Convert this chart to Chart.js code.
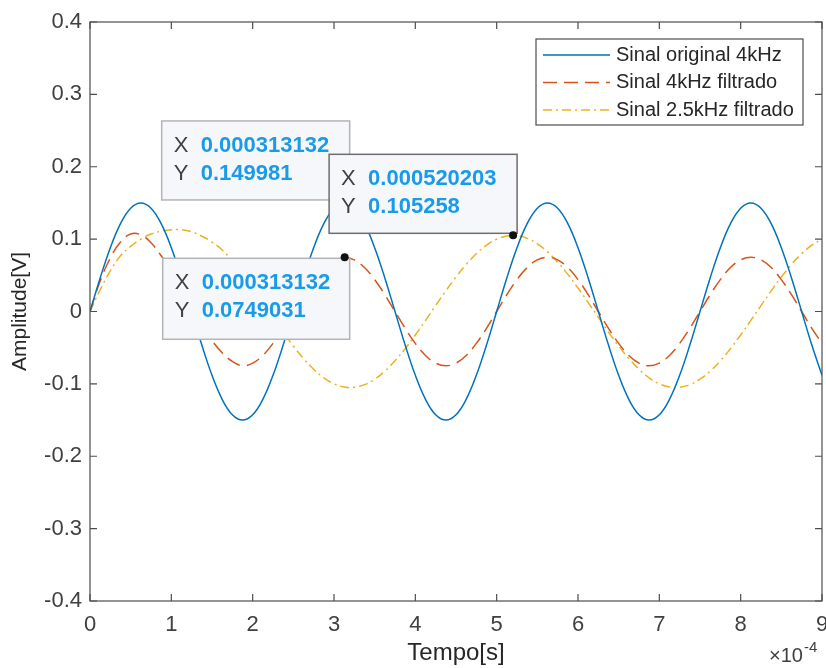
<!DOCTYPE html>
<html>
<head>
<meta charset="utf-8">
<script src="https://cdn.jsdelivr.net/npm/chart.js@4.4.1/dist/chart.umd.min.js"></script>
<style>
  body { margin: 0; background: #fff; }
  canvas { display: block; }
</style>
</head>
<body>
<canvas id="sinalChart" width="826" height="668"></canvas>
<script>
// tempo em unidades de 1e-4 s
const tempo = [
  0, 0.125, 0.25, 0.375, 0.5, 0.625, 0.75, 0.875, 1, 1.125, 1.25, 1.375, 1.5, 1.625, 1.75, 1.875,
  2, 2.125, 2.25, 2.375, 2.5, 2.625, 2.75, 2.875, 3, 3.125, 3.25, 3.375, 3.5, 3.625, 3.75, 3.875,
  4, 4.125, 4.25, 4.375, 4.5, 4.625, 4.75, 4.875, 5, 5.125, 5.25, 5.375, 5.5, 5.625, 5.75, 5.875,
  6, 6.125, 6.25, 6.375, 6.5, 6.625, 6.75, 6.875, 7, 7.125, 7.25, 7.375, 7.5, 7.625, 7.75, 7.875,
  8, 8.125, 8.25, 8.375, 8.5, 8.625, 8.75, 8.875, 9
];

const sinalOriginal = [
  0, 0.0464, 0.0882, 0.1214, 0.1427, 0.15, 0.1427, 0.1214, 0.0882, 0.0464,
  0, -0.0464, -0.0882, -0.1214, -0.1427, -0.15, -0.1427, -0.1214, -0.0882, -0.0464,
  0, 0.0464, 0.0882, 0.1214, 0.1427, 0.15, 0.1427, 0.1214, 0.0882, 0.0464,
  0, -0.0464, -0.0882, -0.1214, -0.1427, -0.15, -0.1427, -0.1214, -0.0882, -0.0464,
  0, 0.0464, 0.0882, 0.1214, 0.1427, 0.15, 0.1427, 0.1214, 0.0882, 0.0464,
  0, -0.0464, -0.0882, -0.1214, -0.1427, -0.15, -0.1427, -0.1214, -0.0882, -0.0464,
  0, 0.0464, 0.0882, 0.1214, 0.1427, 0.15, 0.1427, 0.1214, 0.0882, 0.0464,
  0, -0.0464, -0.0882
];

const sinal4kFiltrado = [
  0, 0.042, 0.074, 0.096, 0.107, 0.106, 0.095, 0.077, 0.056, 0.032,
  0.008, -0.017, -0.040, -0.057, -0.069, -0.075, -0.0713, -0.0607, -0.0441, -0.0232,
  0, 0.0232, 0.0441, 0.0607, 0.0713, 0.075, 0.0713, 0.0607, 0.0441, 0.0232,
  0, -0.0232, -0.0441, -0.0607, -0.0713, -0.075, -0.0713, -0.0607, -0.0441, -0.0232,
  0, 0.0232, 0.0441, 0.0607, 0.0713, 0.075, 0.0713, 0.0607, 0.0441, 0.0232,
  0, -0.0232, -0.0441, -0.0607, -0.0713, -0.075, -0.0713, -0.0607, -0.0441, -0.0232,
  0, 0.0232, 0.0441, 0.0607, 0.0713, 0.075, 0.0713, 0.0607, 0.0441, 0.0232,
  0, -0.0232, -0.0441
];

const sinal25kFiltrado = [
  0, 0.030, 0.056, 0.077, 0.090, 0.100, 0.107, 0.111, 0.113, 0.113,
  0.110, 0.104, 0.096, 0.085, 0.070, 0.052, 0.033, 0.013, -0.0082, -0.0285,
  -0.0477, -0.065, -0.0798, -0.0916, -0.0999, -0.1043, -0.1047, -0.1011, -0.0936, -0.0824,
  -0.0682, -0.0513, -0.0324, -0.0123, 0.0082, 0.0285, 0.0477, 0.065, 0.0798, 0.0916,
  0.0999, 0.1043, 0.1047, 0.1011, 0.0936, 0.0824, 0.0682, 0.0513, 0.0324, 0.0123,
  -0.0082, -0.0285, -0.0477, -0.065, -0.0798, -0.0916, -0.0999, -0.1043, -0.1047, -0.1011,
  -0.0936, -0.0824, -0.0682, -0.0513, -0.0324, -0.0123, 0.0082, 0.0285, 0.0477, 0.065,
  0.0798, 0.0916, 0.0999
];

const nomesSinais = ['Sinal original 4kHz', 'Sinal 4kHz filtrado', 'Sinal 2.5kHz filtrado'];

const xTicks = [0, 1, 2, 3, 4, 5, 6, 7, 8, 9];
const yTicks = [-0.4, -0.3, -0.2, -0.1, 0, 0.1, 0.2, 0.3, 0.4];
const yTickLabels = ['-0.4', '-0.3', '-0.2', '-0.1', '0', '0.1', '0.2', '0.3', '0.4'];

// data tips (x em 1e-4 s)
const tipX = [3.13132, 3.13132, 5.20203];
const tipY = [0.149981, 0.0749031, 0.105258];
const tipXText = ['0.000313132', '0.000313132', '0.000520203'];
const tipYText = ['0.149981', '0.0749031', '0.105258'];

const FONT = '"Liberation Sans", Arial, Helvetica, sans-serif';
const AXIS_COLOR = '#404040';

function toPoints(ys) {
  return ys.map((y, i) => ({ x: tempo[i], y: y }));
}

const matlabPlugin = {
  id: 'matlabPlugin',
  afterDraw(chart) {
    const { ctx, chartArea: a, scales } = chart;
    const xs = scales.x, ys = scales.y;
    ctx.save();

    // caixa do eixo + ticks para dentro
    ctx.strokeStyle = '#4d4d4d';
    ctx.lineWidth = 1.2;
    ctx.strokeRect(a.left, a.top, a.right - a.left, a.bottom - a.top);
    ctx.beginPath();
    xTicks.forEach(v => {
      const px = xs.getPixelForValue(v);
      ctx.moveTo(px, a.bottom); ctx.lineTo(px, a.bottom - 7);
      ctx.moveTo(px, a.top); ctx.lineTo(px, a.top + 7);
    });
    yTicks.forEach(v => {
      const py = ys.getPixelForValue(v);
      ctx.moveTo(a.left, py); ctx.lineTo(a.left + 7, py);
      ctx.moveTo(a.right, py); ctx.lineTo(a.right - 7, py);
    });
    ctx.stroke();

    // x10^-4
    ctx.fillStyle = AXIS_COLOR;
    ctx.textAlign = 'left';
    ctx.textBaseline = 'alphabetic';
    ctx.font = '20px ' + FONT;
    ctx.fillText('\u00d710', a.right - 53, 662);
    ctx.font = '15px ' + FONT;
    ctx.fillText('-4', a.right - 18, 652);

    // legenda
    const lx = a.right - 286, ly = a.top + 17, lw = 267, lh = 86;
    ctx.fillStyle = '#fff';
    ctx.fillRect(lx, ly, lw, lh);
    ctx.strokeStyle = '#4d4d4d';
    ctx.lineWidth = 1.2;
    ctx.strokeRect(lx, ly, lw, lh);
    chart.data.datasets.forEach((ds, i) => {
      const ry = ly + 16 + i * 27.5;
      ctx.strokeStyle = ds.borderColor;
      ctx.lineWidth = ds.borderWidth;
      ctx.setLineDash(ds.borderDash || []);
      ctx.beginPath();
      ctx.moveTo(lx + 7, ry); ctx.lineTo(lx + 74, ry);
      ctx.stroke();
      ctx.setLineDash([]);
      ctx.fillStyle = '#262626';
      ctx.font = '20px ' + FONT;
      ctx.textBaseline = 'middle';
      ctx.fillText(nomesSinais[i], lx + 80, ry);
    });

    // data tips
    const boxes = [
      { dx: -183, dy: -82, w: 188, h: 79, border: '#b4b4b4' },
      { dx: -182, dy: 1, w: 187, h: 81, border: '#b4b4b4' },
      { dx: -184, dy: -81, w: 188, h: 79, border: '#6e6e6e' }
    ];
    tipX.forEach((tx, i) => {
      const px = xs.getPixelForValue(tx);
      const py = ys.getPixelForValue(tipY[i]);
      const b = boxes[i];
      const bx = px + b.dx, by = py + b.dy;
      ctx.fillStyle = '#f6f7fa';
      ctx.fillRect(bx, by, b.w, b.h);
      ctx.strokeStyle = b.border;
      ctx.lineWidth = 1.5;
      ctx.strokeRect(bx, by, b.w, b.h);
      ctx.textBaseline = 'middle';
      ctx.fillStyle = '#404040';
      ctx.font = '22px ' + FONT;
      ctx.fillText('X', bx + 12, by + 25);
      ctx.fillText('Y', bx + 12, by + 53);
      ctx.fillStyle = '#1a9be8';
      ctx.font = 'bold 22px ' + FONT;
      ctx.fillText(tipXText[i], bx + 39, by + 25);
      ctx.fillText(tipYText[i], bx + 39, by + 53);
      ctx.fillStyle = '#111';
      ctx.beginPath();
      ctx.arc(px, py, 4, 0, Math.PI * 2);
      ctx.fill();
    });

    ctx.restore();
  }
};

new Chart(document.getElementById('sinalChart'), {
  type: 'line',
  data: {
    datasets: [
      {
        label: nomesSinais[0],
        data: toPoints(sinalOriginal),
        borderColor: '#0072BD',
        borderWidth: 1.5,
        pointRadius: 0,
        tension: 0.4
      },
      {
        label: nomesSinais[1],
        data: toPoints(sinal4kFiltrado),
        borderColor: '#D95319',
        borderWidth: 1.5,
        borderDash: [14, 7],
        pointRadius: 0,
        tension: 0.4
      },
      {
        label: nomesSinais[2],
        data: toPoints(sinal25kFiltrado),
        borderColor: '#EDB120',
        borderWidth: 1.5,
        borderDash: [9, 4, 2, 4],
        pointRadius: 0,
        tension: 0.4
      }
    ]
  },
  options: {
    responsive: false,
    animation: false,
    devicePixelRatio: 1,
    layout: { padding: { left: 0, right: 4, top: 22, bottom: 0 } },
    plugins: {
      legend: { display: false },
      tooltip: { enabled: false }
    },
    scales: {
      x: {
        type: 'linear',
        min: 0,
        max: 9,
        afterBuildTicks: s => { s.ticks = xTicks.map(v => ({ value: v })); },
        afterFit: s => { s.height = 67; s.paddingLeft = 0; s.paddingRight = 0; },
        grid: { display: false, drawTicks: false },
        border: { display: false },
        ticks: {
          font: { family: FONT, size: 22 },
          color: AXIS_COLOR,
          padding: 11,
          maxRotation: 0,
          autoSkip: false,
          callback: v => String(v)
        },
        title: {
          display: true,
          text: 'Tempo[s]',
          color: '#262626',
          font: { family: FONT, size: 24 },
          padding: { top: 0, bottom: 0 }
        }
      },
      y: {
        type: 'linear',
        min: -0.4,
        max: 0.4,
        afterBuildTicks: s => { s.ticks = yTicks.map(v => ({ value: v })); },
        afterFit: s => { s.width = 90; s.paddingTop = 0; s.paddingBottom = 0; },
        grid: { display: false, drawTicks: false },
        border: { display: false },
        ticks: {
          font: { family: FONT, size: 22 },
          color: AXIS_COLOR,
          padding: 8,
          autoSkip: false,
          callback: (v, i) => yTickLabels[i]
        },
        title: {
          display: true,
          text: 'Amplitude[V]',
          color: '#262626',
          font: { family: FONT, size: 21 },
          padding: { top: 8, bottom: 0 }
        }
      }
    }
  },
  plugins: [matlabPlugin]
});
</script>
</body>
</html>
